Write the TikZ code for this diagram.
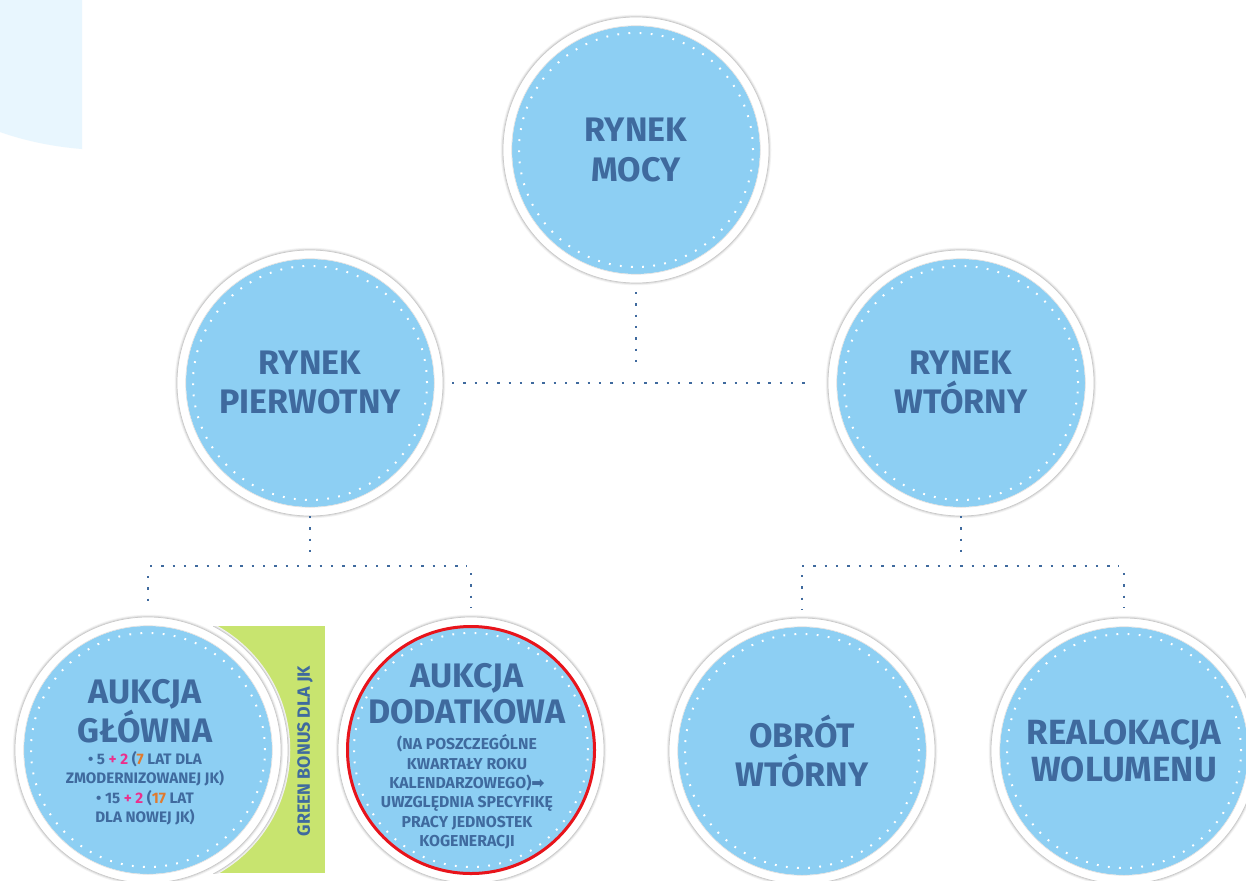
\documentclass[tikz,border=0pt]{standalone}
\usepackage{fontspec}
\setmainfont{Fira Sans}
\newfontfamily\djv{DejaVu Sans}
\definecolor{txt}{HTML}{3F6A9E}
\definecolor{bub}{HTML}{8DCFF3}
\definecolor{lightbg}{HTML}{E8F6FE}
\definecolor{grn}{HTML}{C8E46F}
\definecolor{pnk}{HTML}{EC2F8C}
\definecolor{org}{HTML}{E07A2E}
\definecolor{redc}{HTML}{E8141B}
\tikzset{
  shadowed/.style={circle, inner sep=0pt, outer sep=0pt, fill=white,
    preaction={draw=black!5, line width=4.5pt},
    preaction={draw=black!12, line width=2.4pt},
    draw=black!21, line width=0.7pt},
  bubble/.style={shadowed, minimum size=266pt,
    path picture={
      \fill[bub] (path picture bounding box.center) circle (124pt);
      \draw[black!12, line width=0.6pt] (path picture bounding box.center) circle (124.3pt);
      \draw[white, line width=2pt, dash pattern=on 1.8pt off 9.35pt] (path picture bounding box.center) circle (117pt);
    },
    text=txt, align=center, font=\bfseries\fontsize{34}{39}\selectfont},
  title/.style={text=txt, align=center, inner sep=0pt, font=\bfseries\fontsize{34}{38}\selectfont},
  small/.style={text=txt, align=center, inner sep=0pt, font=\bfseries\fontsize{15.8}{19.3}\selectfont},
  conn/.style={draw=txt, line width=2.8pt, dash pattern=on 2.4pt off 8.9pt},
}
\begin{document}
\begin{tikzpicture}[x=1pt,y=-1pt]
\useasboundingbox (0,0) rectangle (1246,880);
\fill[white] (0,0) rectangle (1246,880);
% light decoration top-left
\fill[lightbg] (0,0) -- (82,0) -- (82,149) .. controls (55,147) and (25,141) .. (0,132) -- cycle;

% green bonus band, partly covered by a white crescent
\node[fill=grn, inner sep=0pt, minimum width=112pt, minimum height=247pt, anchor=north west] (green) at (213,626) {};
\begin{scope}
  \clip (green.north west) rectangle (green.south east);
  \node[shadowed, minimum size=280pt] (glownaback) at (148,750) {};
\end{scope}

% bubbles
\node[bubble, font=\bfseries\fontsize{34}{40}\selectfont] (mocy) at (636,150) {RYNEK\\MOCY};
\node[bubble] (pier) at (310,383) {RYNEK\\PIERWOTNY};
\node[bubble] (wtor) at (961,383) {RYNEK\\WTÓRNY};
\node[bubble] (glowna) at (148,750) {};
\node[bubble] (dodat) at (471,750) {};
\node[bubble] (obrot) at (802,751) {OBRÓT\\WTÓRNY};
\node[bubble, font=\bfseries\fontsize{35}{37}\selectfont] (realok) at (1124,751) {REALOKACJA\\WOLUMENU};

\draw[redc, line width=3pt] (dodat.center) circle (123.5pt);

% texts in lower-left bubbles
\node[title] (glownatitle) at (145,711) {AUKCJA\\GŁÓWNA};
\node[small, font=\bfseries\fontsize{15.2}{19.5}\selectfont] (glownatext) at (145,788) {• 5 \textcolor{pnk}{+ 2} (\textcolor{org}{7} LAT DLA\\ZMODERNIZOWANEJ JK)\\• 15 \textcolor{pnk}{+ 2} (\textcolor{org}{17} LAT\\DLA NOWEJ JK)};
\node[title, font=\bfseries\fontsize{34}{36}\selectfont] (dodattitle) at (467,694) {AUKCJA\\DODATKOWA};
\node[small] (dodattext) at (467,792) {(NA POSZCZEGÓLNE\\KWARTAŁY ROKU\\KALENDARZOWEGO){\djv ➡}\\UWZGLĘDNIA SPECYFIKĘ\\PRACY JEDNOSTEK\\KOGENERACJI};

\node[text=txt, rotate=90, inner sep=0pt, font=\bfseries\fontsize{17.8}{20}\selectfont] (greentext) at (305,751) {GREEN BONUS DLA JK};

% connectors
\coordinate (lbar) at (0,566);
\draw[conn] ([yshift=-9pt]mocy.south) -- ([yshift=12pt]mocy.south |- pier.center);
\draw[conn] ([xshift=9pt]pier.east) -- ([xshift=-15pt]wtor.west);

\draw[conn] (pier.south) -- ([yshift=6pt]pier.south |- lbar);
\draw[conn] ([xshift=2pt]glowna.north |- lbar) -- ([xshift=-4pt]dodat.north |- lbar);
\draw[conn] ([yshift=-10pt]glowna.north |- lbar) -- ([yshift=8pt]glowna.north);
\draw[conn] ([yshift=-7pt]dodat.north |- lbar) -- ([yshift=10pt]dodat.north);

\draw[conn] (wtor.south) -- ([yshift=6pt]wtor.south |- lbar);
\draw[conn] (obrot.north |- lbar) -- ([xshift=-5pt]realok.north |- lbar);
\draw[conn] ([yshift=-9pt]obrot.north |- lbar) -- ([yshift=8pt]obrot.north);
\draw[conn] ([yshift=-7pt]realok.north |- lbar) -- ([yshift=10pt]realok.north);
\end{tikzpicture}
\end{document}
